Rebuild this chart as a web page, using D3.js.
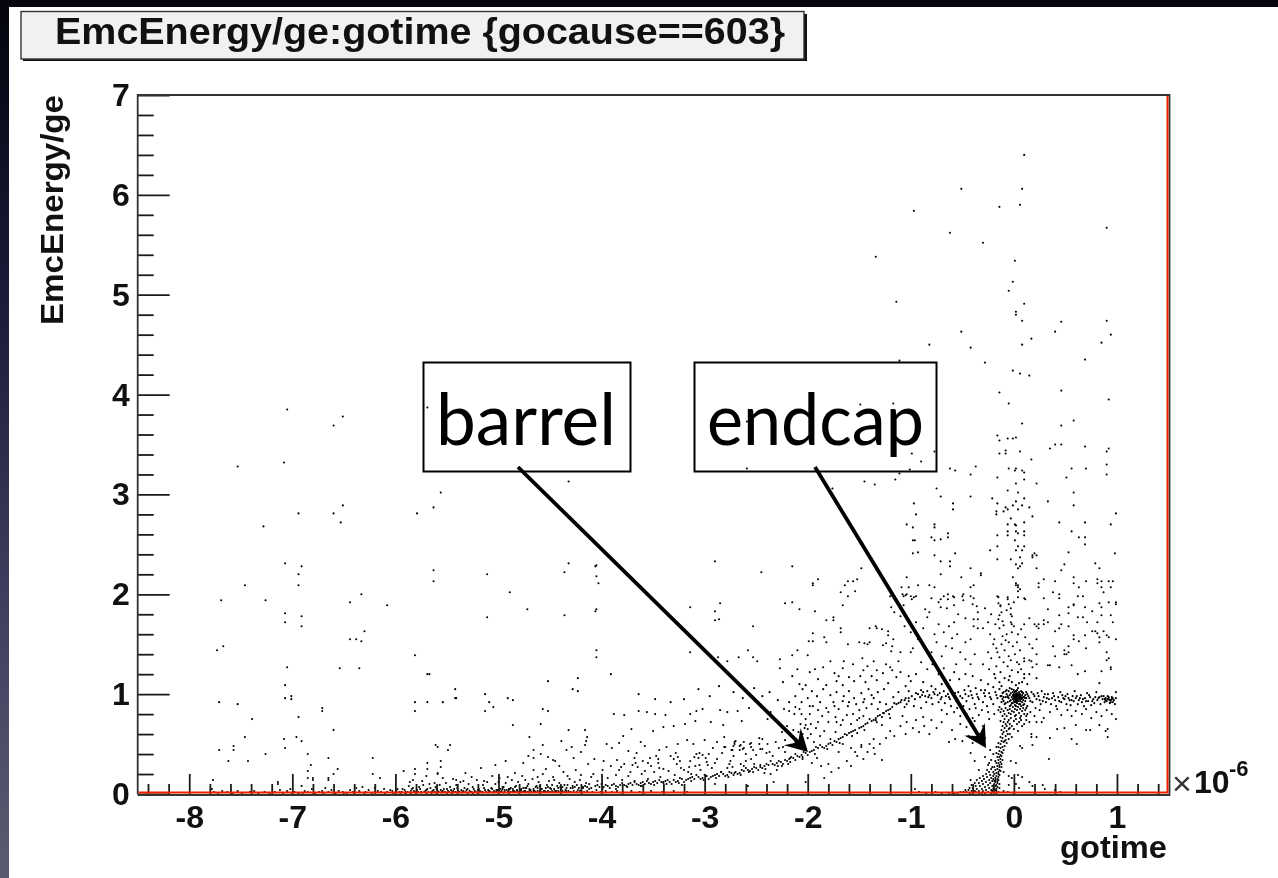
<!DOCTYPE html>
<html>
<head>
<meta charset="utf-8">
<script src="https://cdnjs.cloudflare.com/ajax/libs/d3/7.8.5/d3.min.js"></script>
<style>
  html, body { margin: 0; padding: 0; background: #fff; overflow: hidden; }
  #chart { display: block; }
</style>
</head>
<body>
<svg id="chart" width="1278" height="878"></svg>
<script>
// tick labels
const xLabels = [-8, -7, -6, -5, -4, -3, -2, -1, 0, 1];
const yLabels = [0, 1, 2, 3, 4, 5, 6, 7];
const xMinor = [-8.4,-8.2,-7.8,-7.6,-7.4,-7.2,-6.8,-6.6,-6.4,-6.2,-5.8,-5.6,-5.4,-5.2,-4.8,-4.6,-4.4,-4.2,-3.8,-3.6,-3.4,-3.2,-2.8,-2.6,-2.4,-2.2,-1.8,-1.6,-1.4,-1.2,-0.8,-0.6,-0.4,-0.2,0.2,0.4,0.6,0.8,1.2,1.4];
const yMinor = [0.2,0.4,0.6,0.8,1.2,1.4,1.6,1.8,2.2,2.4,2.6,2.8,3.2,3.4,3.6,3.8,4.2,4.4,4.6,4.8,5.2,5.4,5.6,5.8,6.2,6.4,6.6,6.8];

// [gotime (x 10^-6), EmcEnergy/ge]
const topPoints = [[-0.97,5.84],[-1.34,5.38],[-1.14,4.93],[-0.82,4.50],[-1.11,4.34],[0.10,6.40],[-0.51,6.06],[0.08,6.06],[-0.14,5.88],[0.06,5.90],[0.90,5.67],[-0.62,5.62],[-0.30,5.52],[0.01,5.34],[-0.01,5.13],[-0.05,5.04],[0.10,4.91],[0.02,4.83],[0.02,4.80],[0.08,4.74],[0.46,4.73],[0.90,4.74],[0.40,4.63],[-0.51,4.63],[0.94,4.60],[0.17,4.56],[0.85,4.52],[0.08,4.50],[-0.42,4.47],[0.69,4.35],[-0.28,4.32],[-0.01,4.24],[0.06,4.21],[0.15,4.19],[-1.49,3.90],[-1.17,3.91],[-2.59,3.73],[-1.84,3.65],[-0.99,3.41],[-0.90,3.33],[-0.77,3.43],[-2.59,3.26],[-1.11,3.21],[-1.01,3.25],[-4.32,3.13],[-1.15,3.15],[-1.45,3.13],[-1.35,3.10],[-1.76,3.06]];

const leftPoints = [[-7.05,3.85],[-6.51,3.78],[-6.60,3.69],[-5.69,3.87],[-7.53,3.28],[-7.08,3.32],[-5.56,3.02],[-6.51,2.89],[-5.63,2.87],[-6.94,2.81],[-6.60,2.81],[-5.79,2.81],[-6.53,2.72],[-7.28,2.68],[-7.07,2.31],[-6.91,2.28],[-5.63,2.24],[-6.94,2.20],[-5.63,2.13],[-7.46,2.09],[-6.94,2.09],[-6.33,2.00],[-7.69,1.94],[-7.26,1.94],[-6.44,1.92],[-6.08,1.89],[-7.07,1.81],[-6.91,1.78],[-7.07,1.72],[-6.91,1.68],[-6.30,1.63],[-6.44,1.55],[-6.38,1.55],[-6.33,1.53],[-7.67,1.48],[-7.73,1.44],[-5.81,1.39],[-7.05,1.27],[-6.54,1.26],[-6.35,1.26],[-5.69,1.20],[-5.67,1.20],[-7.07,1.09],[-5.42,1.05],[-7.07,0.96],[-7.01,0.98],[-7.01,0.95],[-5.42,0.96],[-7.71,0.92],[-7.53,0.90],[-7.39,0.75],[-6.94,0.77],[-6.71,0.86],[-6.71,0.83],[-6.60,0.64],[-7.46,0.57],[-7.08,0.55],[-6.96,0.57],[-6.91,0.53],[-7.57,0.48],[-7.57,0.44],[-7.71,0.44],[-7.07,0.46],[-7.26,0.40],[-6.85,0.40],[-6.65,0.36],[-6.22,0.36],[-7.62,0.33],[-7.43,0.33],[-6.82,0.29],[-6.85,0.23],[-6.56,0.25],[-6.60,0.20],[-6.22,0.20],[-6.85,0.16],[-6.80,0.16],[-6.80,0.14],[-6.65,0.16],[-6.65,0.14],[-6.15,0.16],[-7.77,0.14],[-7.14,0.12],[-7.14,0.10],[-5.92,0.23],[-5.81,0.92],[-5.81,0.83],[-5.69,0.92],[-5.54,0.92],[-5.41,0.96],[-5.61,0.49],[-5.59,0.47],[-5.47,0.49],[-5.49,0.44],[-5.56,0.33],[-5.69,0.31],[-5.69,0.25],[-5.56,0.27],[-5.81,0.25],[-5.81,0.20],[-5.83,0.14],[-5.70,0.18],[-5.59,0.21],[-5.59,0.20],[-5.54,0.16],[-5.41,0.14]];

const baselinePoints = [[-7.78,0.05],[-7.76,0.02],[-7.72,0.01],[-7.68,0.03],[-7.63,0.02],[-7.58,0.01],[-7.53,0.03],[-7.49,0.01],[-7.41,0.02],[-7.37,0.03],[-7.33,0.01],[-7.27,0.02],[-7.22,0.01],[-7.17,0.02],[-7.12,0.04],[-7.09,0.01],[-7.05,0.03],[-7.02,0.05],[-6.98,0.02],[-6.94,0.01],[-6.91,0.08],[-6.88,0.03],[-6.85,0.02],[-6.81,0.05],[-6.78,0.01],[-6.74,0.02],[-6.71,0.03],[-6.68,0.06],[-6.65,0.02],[-6.62,0.04],[-6.58,0.01],[-6.55,0.03],[-6.51,0.02],[-6.47,0.01],[-6.44,0.04],[-6.41,0.02],[-6.38,0.06],[-6.35,0.03],[-6.32,0.07],[-6.29,0.02],[-6.26,0.04],[-6.23,0.01],[-6.20,0.06],[-6.17,0.03],[-6.14,0.02],[-6.11,0.05],[-6.08,0.02],[-6.05,0.04],[-6.02,0.01],[-5.99,0.03],[-5.96,0.02],[-5.93,0.05],[-5.90,0.02],[-5.87,0.08],[-5.85,0.03],[-5.83,0.06],[-5.81,0.02],[-5.79,0.04],[-5.77,0.07],[-5.75,0.02],[-5.73,0.09],[-5.71,0.03],[-5.69,0.05],[-5.67,0.10],[-5.65,0.02],[-5.63,0.04],[-5.61,0.07],[-5.59,0.03],[-5.57,0.09],[-5.55,0.02],[-5.53,0.05],[-5.51,0.11],[-5.49,0.03],[-5.47,0.07],[-5.45,0.02],[-5.43,0.05],[-5.41,0.09],[-5.39,0.03],[-5.37,0.12],[-5.35,0.02],[-5.33,0.06],[-5.31,0.04],[-5.29,0.10],[-5.27,0.02],[-5.25,0.07],[-5.23,0.03],[-5.21,0.14],[-5.19,0.05],[-5.17,0.02],[-5.15,0.09],[-5.13,0.04],[-5.11,0.12],[-5.09,0.03],[-5.07,0.06],[-5.05,0.02],[-5.03,0.10],[-5.01,0.04],[-4.99,0.16],[-4.97,0.03],[-4.95,0.07],[-4.93,0.11],[-4.91,0.02],[-4.89,0.05],[-4.87,0.14],[-4.85,0.03],[-4.83,0.08],[-4.81,0.12],[-4.79,0.04],[-4.77,0.18],[-4.75,0.03],[-4.73,0.06],[-4.71,0.10],[-4.69,0.04],[-4.67,0.15],[-4.65,0.03],[-4.63,0.08],[-4.61,0.12],[-4.59,0.05],[-4.57,0.20],[-4.55,0.03],[-4.53,0.09],[-4.51,0.13],[-4.49,0.05],[-4.47,0.17],[-4.45,0.03],[-4.43,0.08],[-4.41,0.11],[-4.39,0.05],[-4.37,0.22],[-4.35,0.04],[-4.33,0.09],[-4.31,0.15],[-4.28,0.06],[-4.26,0.12],[-4.23,0.04],[-4.20,0.19],[-4.18,0.06],[-4.15,0.11],[-4.12,0.05],[-4.10,0.17],[-5.90,0.005],[-5.80,0.01],[-5.70,0.01],[-5.60,0.005],[-5.50,0.01],[-5.40,0.015],[-5.30,0.01],[-5.20,0.01],[-5.10,0.015],[-5.00,0.01],[-4.95,0.015],[-4.90,0.01],[-4.85,0.02],[-4.80,0.015],[-4.75,0.02],[-4.70,0.015],[-4.65,0.02],[-4.60,0.02],[-5.85,0.01],[-5.75,0.015],[-5.65,0.01],[-5.55,0.015],[-5.45,0.01],[-5.35,0.015],[-5.25,0.01],[-5.15,0.015],[-5.05,0.015],[-6.50,0.01],[-6.40,0.01],[-6.30,0.01],[-6.20,0.02],[-6.10,0.01],[-6.00,0.015],[-5.95,0.01],[-6.90,0.01],[-7.00,0.01],[-6.70,0.01],[-6.60,0.015]];

// the pile along zero, darkest between -6 and -4
const baselinePile = [[-6.03,0.03],[-5.98,0.05],[-5.94,0.02],[-5.91,0.04],[-5.88,0.02],[-5.84,0.05],[-5.82,0.03],[-5.78,0.02],[-5.76,0.05],[-5.72,0.02],[-5.70,0.04],[-5.68,0.02],[-5.66,0.06],[-5.64,0.03],[-5.62,0.02],[-5.60,0.05],[-5.58,0.02],[-5.56,0.04],[-5.54,0.03],[-5.52,0.02],[-5.50,0.05],[-5.48,0.02],[-5.46,0.04],[-5.44,0.03],[-5.42,0.02],[-5.40,0.06],[-5.38,0.02],[-5.36,0.04],[-5.34,0.03],[-5.32,0.02],[-5.30,0.05],[-5.28,0.03],[-5.26,0.02],[-5.24,0.05],[-5.22,0.02],[-5.20,0.04],[-5.18,0.03],[-5.16,0.02],[-5.14,0.06],[-5.12,0.02],[-5.10,0.04],[-5.08,0.02],[-5.06,0.05],[-5.04,0.03],[-5.02,0.02],[-5.00,0.03],[-4.98,0.02],[-4.96,0.05],[-4.94,0.02],[-4.92,0.04],[-4.90,0.03],[-4.88,0.02],[-4.86,0.03],[-4.84,0.02],[-4.82,0.03],[-4.80,0.02],[-4.78,0.03],[-4.76,0.02],[-4.74,0.03],[-4.72,0.02],[-4.70,0.03],[-4.68,0.02],[-4.66,0.03],[-4.64,0.02],[-4.62,0.03],[-4.60,0.03],[-4.58,0.02],[-4.56,0.03],[-4.54,0.02],[-4.52,0.03],[-4.50,0.02],[-4.48,0.03],[-4.46,0.02],[-4.44,0.03],[-4.42,0.03],[-4.40,0.02],[-4.38,0.03],[-4.36,0.02],[-4.34,0.03],[-4.32,0.03],[-4.30,0.02],[-4.27,0.03],[-4.24,0.02],[-4.21,0.03],[-4.17,0.02],[-4.14,0.03],[-4.09,0.02],[-4.05,0.04],[-4.01,0.02],[-3.96,0.03],[-3.90,0.02],[-3.85,0.03],[-3.79,0.02],[-3.71,0.03],[-3.63,0.02],[-3.52,0.03],[-3.41,0.02],[-3.30,0.03],[-3.17,0.02],[-5.86,0.12],[-5.74,0.13],[-5.62,0.11],[-5.44,0.15],[-5.34,0.13],[-5.26,0.17],[-5.14,0.13],[-5.06,0.18],[-5.00,0.12],[-4.91,0.17],[-4.84,0.21],[-4.74,0.14],[-4.66,0.24],[-4.62,0.17],[-4.54,0.25],[-4.46,0.14],[-4.41,0.28],[-4.33,0.18],[-4.25,0.24],[-4.21,0.14],[-4.13,0.30],[-4.08,0.20],[-4.04,0.13],[-3.99,0.24],[-5.32,0.21],[-5.17,0.26],[-5.03,0.29],[-4.93,0.33],[-4.76,0.31],[-4.71,0.38],[-4.45,0.33],[-4.27,0.36],[-4.20,0.42],[-4.07,0.35]];

const lowScatter = [[-5.11,2.20],[-4.32,2.31],[-4.05,2.29],[-4.06,2.28],[-4.36,2.22],[-4.05,2.18],[-4.03,2.11],[-4.89,2.02],[-4.72,1.85],[-5.11,1.77],[-4.36,1.79],[-4.05,1.85],[-4.06,1.83],[-4.05,1.44],[-4.05,1.37],[-4.23,1.16],[-4.52,1.13],[-3.91,1.20],[-4.28,1.05],[-4.23,1.03],[-3.64,1.00],[-5.13,1.00],[-5.09,0.92],[-5.13,0.83],[-5.05,0.87],[-4.91,0.96],[-4.86,0.94],[-4.57,0.85],[-4.52,0.83],[-4.86,0.69],[-4.59,0.70],[-4.70,0.57],[-4.32,0.64],[-4.16,0.64],[-4.39,0.53],[-4.14,0.57],[-4.15,0.53],[-4.16,0.49],[-4.29,0.47],[-4.34,0.44],[-4.57,0.49],[-4.66,0.44],[-4.59,0.40],[-4.52,0.37],[-4.47,0.34],[-4.66,0.36],[-3.64,0.83],[-3.56,0.82],[-3.88,0.80],[-3.78,0.79],[-3.48,0.80],[-3.38,0.79],[-3.14,0.80],[-3.08,0.83],[-3.02,0.85],[-2.85,0.84],[-2.78,0.82],[-2.68,0.83],[-2.57,0.86],[-2.45,0.87],[-2.36,0.82],[-3.79,0.58],[-3.71,0.65],[-3.62,0.52],[-3.50,0.63],[-3.40,0.67],[-3.30,0.68],[-3.19,0.70],[-3.09,0.73],[-2.94,0.72],[-2.82,0.69],[-2.64,0.73],[-2.39,0.75],[-2.28,0.72],[-3.95,0.50],[-3.90,0.46],[-3.83,0.51],[-3.74,0.43],[-3.66,0.41],[-3.58,0.48],[-3.44,0.44],[-3.37,0.47],[-3.26,0.50],[-3.17,0.54],[-3.11,0.50],[-3.00,0.54],[-2.92,0.46],[-2.88,0.52],[-2.81,0.57],[-2.70,0.53],[-2.62,0.52],[-2.55,0.47],[-2.47,0.56],[-2.39,0.50],[-2.31,0.52],[-2.22,0.54],[-2.16,0.58],[-2.09,0.62],[-3.98,0.33],[-3.91,0.28],[-3.85,0.34],[-3.78,0.30],[-3.72,0.22],[-3.65,0.27],[-3.60,0.33],[-3.52,0.28],[-3.45,0.35],[-3.40,0.25],[-3.33,0.38],[-3.27,0.30],[-3.20,0.24],[-3.14,0.33],[-3.10,0.37],[-3.05,0.29],[-2.98,0.32],[-2.93,0.26],[-2.88,0.35],[-2.83,0.41],[-2.76,0.30],[-2.72,0.38],[-2.66,0.44],[-2.60,0.40],[-2.55,0.35],[-2.50,0.39],[-2.44,0.45],[-2.40,0.41],[-2.34,0.38],[-2.28,0.46],[-2.22,0.42],[-2.17,0.36],[-3.94,0.16],[-3.86,0.19],[-3.80,0.14],[-3.74,0.18],[-3.68,0.13],[-3.61,0.20],[-3.55,0.15],[-3.49,0.22],[-3.43,0.17],[-3.35,0.23],[-3.29,0.19],[-3.23,0.26],[-3.16,0.22],[-3.09,0.28],[-3.04,0.24],[-2.97,0.29],[-2.90,0.31],[-2.84,0.22],[-2.78,0.26],[-2.71,0.21],[-2.65,0.30],[-2.57,0.22],[-2.46,0.29],[-2.42,0.21],[-2.36,0.20],[-2.30,0.24],[-2.25,0.28],[-2.19,0.30],[-2.12,0.34],[-2.05,0.37],[-1.96,0.31],[-1.91,0.36],[-1.87,0.28],[-1.80,0.30],[-1.77,0.22],[-1.84,0.16],[-1.70,0.26],[-1.62,0.33],[-1.58,0.28],[-1.52,0.38],[-1.46,0.35],[-1.35,0.40],[-1.28,0.34],[-2.02,0.12],[-2.33,0.12],[-2.58,0.08],[-2.90,0.10],[-3.40,0.12],[-3.62,0.08],[-3.22,0.09]];

// tight clumps in the scatter over the barrel band
const clumps = [[-2.81,0.47],[-2.80,0.47],[-2.74,0.44],[-2.73,0.44],[-2.72,0.48],[-2.71,0.52],[-2.71,0.50],[-2.66,0.48],[-2.65,0.49],[-2.63,0.45],[-2.62,0.46],[-2.56,0.50],[-2.55,0.51],[-2.53,0.44],[-2.47,0.50],[-2.46,0.45],[-2.44,0.55],[-3.08,0.40],[-3.06,0.36],[-3.05,0.41],[-3.02,0.39],[-2.99,0.36],[-2.96,0.40],[-3.28,0.41],[-3.26,0.37],[-3.24,0.33],[-3.30,0.35],[-3.47,0.38],[-3.45,0.31],[-3.44,0.26],[-3.55,0.31],[-3.53,0.36],[-3.70,0.29],[-3.68,0.36],[-3.67,0.31],[-3.83,0.24],[-3.81,0.27],[-3.58,0.23],[-3.15,0.27],[-3.13,0.20],[-2.75,0.33],[-2.73,0.27],[-2.62,0.28],[-2.60,0.33],[-2.52,0.30],[-2.37,0.42],[-2.24,0.47],[-2.14,0.48],[-2.10,0.52],[-2.05,0.60],[-2.00,0.65],[-1.97,0.70],[-2.02,0.69],[-2.06,0.80],[-1.98,0.88],[-1.90,0.84],[-1.80,0.82],[-1.74,0.88],[-1.72,0.72],[-1.66,0.74],[-1.60,0.92],[-1.56,0.80],[-1.50,0.76],[-1.46,0.92],[-1.41,1.05],[-1.36,0.96],[-1.30,0.92],[-1.24,0.90],[-1.17,0.97],[-1.12,1.02],[-1.06,0.87],[-1.02,1.03],[-1.46,1.24],[-1.42,1.28],[-1.33,1.24],[-1.20,1.27],[-1.14,1.17],[-1.74,1.21],[-1.70,1.18],[-1.66,1.26],[-2.12,0.87],[-2.18,0.83],[-2.29,0.94],[-2.37,1.02],[-2.44,0.98],[-2.52,1.06],[-2.63,0.96],[-2.72,1.02],[-2.86,1.08],[-2.95,0.98],[-3.06,1.05],[-3.20,0.95],[-3.33,0.92],[-3.48,0.95]];

const midCloud = [[-3.14,1.87],[-2.90,1.83],[-2.85,1.91],[-2.90,1.74],[-2.86,1.75],[-2.53,1.68],[-2.45,2.22],[-2.90,2.33],[-2.15,2.28],[-3.14,1.42],[-2.87,1.37],[-2.78,1.33],[-2.67,1.37],[-2.58,1.44],[-2.53,1.37],[-2.49,1.33],[-2.27,1.35],[-2.27,1.26],[-2.10,1.44],[-2.15,1.39],[-2.00,1.39],[-2.22,1.91],[-2.15,1.92],[-2.08,1.85],[-1.93,1.83],[-1.95,2.11],[-1.95,2.09],[-1.90,2.15],[-1.82,1.74],[-1.75,1.77],[-1.75,1.74],[-1.68,1.66],[-1.68,1.62],[-1.66,1.89],[-1.61,1.98],[-1.68,2.02],[-1.54,2.03],[-1.61,2.13],[-1.56,2.13],[-1.52,2.15],[-1.64,2.09],[-1.48,2.26],[-1.40,1.66],[-1.34,1.68],[-1.33,1.66],[-1.28,1.65],[-1.22,1.63],[-1.22,1.59],[-1.17,1.55],[-1.95,1.61],[-1.99,1.53],[-1.95,1.53],[-1.84,1.57],[-1.82,1.52],[-1.61,1.50],[-1.50,1.52],[-1.45,1.51],[-1.42,1.50],[-1.40,1.52],[-1.27,1.49],[-1.24,1.51],[-1.18,1.48],[-1.19,1.43],[-1.10,1.42],[-1.00,1.42],[-1.12,1.33],[-1.24,1.30],[-1.36,1.33],[-1.47,1.36],[-1.56,1.30],[-1.65,1.33],[-1.78,1.33],[-1.85,1.27],[-1.93,1.25],[-1.98,1.22],[-1.90,1.15],[-1.82,1.09],[-1.72,1.13],[-1.66,1.09],[-1.60,1.17],[-1.55,1.13],[-1.49,1.18],[-1.44,1.12],[-1.38,1.18],[-1.33,1.14],[-1.27,1.21],[-1.22,1.11],[-1.18,1.24],[-1.10,1.22],[-1.05,1.08],[-1.02,1.18],[-1.00,1.13],[-2.10,1.25],[-2.15,1.18],[-2.24,1.12],[-2.08,1.10],[-2.05,1.05],[-2.02,1.09],[-1.96,1.03],[-1.91,0.98],[-1.85,1.05],[-1.78,0.99],[-1.72,1.02],[-1.65,0.98],[-1.60,1.03],[-1.55,0.96],[-1.48,1.01],[-1.45,0.95],[-1.38,0.99],[-1.32,1.02],[-1.26,1.05],[-2.12,0.98],[-2.06,0.92],[-2.00,0.96],[-1.95,0.88],[-1.88,0.92],[-1.82,0.86],[-1.75,0.92],[-1.70,0.85],[-1.66,0.93],[-1.61,0.88],[-1.53,0.90],[-1.50,0.84],[-1.43,0.86],[-1.38,0.90],[-1.32,0.85],[-2.18,0.92],[-2.23,0.85],[-2.13,0.80],[-2.08,0.85],[-2.02,0.75],[-1.98,0.80],[-1.90,0.72],[-1.86,0.78],[-1.80,0.72],[-1.73,0.77],[-1.68,0.69],[-1.62,0.79],[-1.58,0.70],[-1.52,0.74],[-1.46,0.78],[-2.25,0.62],[-2.20,0.68],[-2.14,0.64],[-2.07,0.70],[-2.03,0.66],[-1.97,0.60],[-1.92,0.66],[-1.88,0.58],[-1.84,0.63],[-1.78,0.55],[-1.73,0.62],[-1.94,0.52],[-2.00,0.56],[-2.06,0.50],[-2.12,0.52],[-1.70,0.42],[-1.66,0.50],[-1.58,0.46],[-1.54,0.42],[-1.48,0.47],[-1.40,0.50],[-1.36,0.55],[-1.30,0.50],[-1.24,0.56],[-1.20,0.63],[-1.16,0.58],[-1.10,0.68],[-1.05,0.60],[-0.98,0.66],[-0.92,0.62],[-0.87,0.68],[-0.82,0.60],[-0.75,0.66],[-0.70,0.72],[-0.80,0.74],[-0.88,0.77],[-0.95,0.74],[-1.04,0.72],[-1.08,0.78],[-1.28,0.69],[-1.34,0.74],[-1.20,0.76],[-1.27,0.81],[-1.48,0.49],[-1.42,0.42],[-1.36,0.46],[-0.57,0.55],[-0.63,0.52],[-0.50,0.53],[-0.44,0.58],[-0.40,0.51],[-0.33,0.60],[-0.28,0.56],[-0.60,0.64],[-0.52,0.70],[-0.46,0.67],[-0.38,0.73],[-0.30,0.68],[-0.24,0.75]];

const upperRight = [[-0.14,4.02],[0.46,4.04],[-0.05,3.91],[0.92,3.95],[0.58,3.74],[0.08,3.71],[0.46,3.69],[-0.16,3.59],[0.02,3.57],[-0.01,3.56],[-0.06,3.56],[-0.14,3.54],[0.40,3.50],[0.46,3.50],[0.69,3.48],[0.35,3.46],[0.92,3.46],[-0.08,3.44],[0.90,3.43],[-0.14,3.41],[-0.08,3.41],[0.06,3.43],[0.17,3.35],[0.90,3.30],[-0.37,3.28],[-0.62,3.26],[-0.57,3.24],[-0.05,3.26],[0.02,3.26],[0.01,3.24],[0.08,3.24],[0.10,3.22],[0.56,3.26],[0.70,3.26],[0.90,3.20],[-0.42,3.20],[-0.16,3.17],[0.51,3.17],[0.10,3.15],[0.02,3.11],[0.22,3.11],[-0.75,3.06],[-0.06,3.04],[0.04,3.02],[0.58,3.02],[-0.71,2.98],[-0.42,2.98],[-0.21,2.96],[0.10,2.96],[0.33,2.93],[0.02,2.93],[-0.16,2.91],[-0.97,2.91],[-0.59,2.91],[0.58,2.89],[-0.01,2.89],[0.08,2.89],[0.15,2.87],[-0.08,2.87],[-0.06,2.85],[0.04,2.85],[-0.59,2.85],[-0.10,2.83],[-0.17,2.83],[-0.17,2.80],[0.99,2.81],[-0.95,2.80],[0.18,2.78],[-0.03,2.76],[0.10,2.72],[0.44,2.72],[0.69,2.72],[-0.06,2.70],[0.94,2.70],[0.01,2.70],[0.02,2.69],[-1.04,2.70],[-0.77,2.70],[-0.98,2.67],[-0.77,2.67],[-0.06,2.63],[0.02,2.63],[0.04,2.61],[0.10,2.63],[0.56,2.63],[-0.64,2.61],[-0.06,2.59],[0.10,2.59],[-0.16,2.59],[-0.64,2.57],[-0.80,2.57],[0.63,2.57],[0.69,2.57],[-0.71,2.55],[-0.77,2.54],[-0.98,2.54],[-0.96,2.54],[0.01,2.54],[0.69,2.50],[-0.16,2.48],[0.04,2.48],[0.10,2.48],[-0.23,2.44],[0.02,2.44],[0.08,2.44],[0.53,2.42],[-0.93,2.42],[-0.98,2.41],[-0.57,2.41],[0.98,2.41],[0.20,2.41],[0.18,2.39],[0.22,2.39],[0.18,2.37],[-0.77,2.39],[0.06,2.37],[-0.03,2.35],[-0.16,2.35],[-0.71,2.33],[-0.62,2.33],[0.08,2.31],[0.79,2.31],[0.02,2.30],[0.49,2.30],[0.06,2.28],[0.04,2.26],[-0.62,2.28],[-0.42,2.26],[0.22,2.26],[0.83,2.26],[0.46,2.24],[-0.32,2.21],[-0.32,2.19],[-0.71,2.20],[-1.04,2.17],[-0.51,2.17],[-0.01,2.17],[0.58,2.17],[0.29,2.15],[0.81,2.15],[0.40,2.13],[0.70,2.13],[0.85,2.13],[0.92,2.13],[0.96,2.13],[0.24,2.11],[0.58,2.11],[0.02,2.11],[0.04,2.09],[0.02,2.09],[0.04,2.07],[0.81,2.11],[0.24,2.07],[0.63,2.07],[0.85,2.07],[0.94,2.07],[-0.39,2.09],[-0.42,2.07],[-0.82,2.09],[-0.77,2.07],[-0.93,2.09],[-1.02,2.07],[-1.09,2.07],[0.06,2.05],[0.04,2.03],[0.87,2.02],[0.38,2.02],[0.44,2.00],[-0.64,2.00],[-0.68,1.98],[-0.59,1.98],[-1.04,2.00],[-1.07,1.98],[-1.00,1.98],[-0.95,1.98],[-0.50,1.98],[-0.42,1.98],[-0.39,1.96],[-0.80,1.96],[-0.16,1.98],[-0.15,1.97],[-0.06,1.97],[-0.06,1.95],[0.04,1.97],[0.10,1.96],[0.11,1.95],[0.29,1.96],[0.62,1.98],[0.67,1.98],[0.44,1.96],[0.99,1.92],[0.99,1.90],[0.92,1.92],[0.83,1.91],[0.58,1.90],[0.58,1.89],[0.53,1.87],[0.33,1.85],[0.69,1.87],[0.85,1.87],[0.76,1.83],[0.53,1.81],[0.44,1.79],[0.85,1.79],[0.94,1.79],[0.62,1.77],[0.67,1.77],[0.15,1.76],[0.29,1.74],[0.29,1.70],[0.33,1.72],[0.71,1.72],[0.81,1.72],[0.96,1.72],[0.10,1.70],[0.20,1.70],[0.24,1.70],[0.22,1.68],[0.24,1.66],[0.46,1.70],[0.53,1.68],[0.44,1.66],[0.07,1.65],[0.40,1.63],[0.76,1.63],[0.79,1.63],[0.81,1.61],[0.87,1.63],[0.69,1.59],[0.90,1.59],[0.92,1.57],[0.11,1.57],[0.58,1.59],[0.58,1.55],[0.83,1.57],[0.99,1.55],[0.22,1.55],[0.63,1.53],[0.83,1.52],[0.15,1.50],[0.38,1.48],[0.53,1.48],[0.18,1.46],[0.70,1.46],[0.49,1.44],[0.53,1.42],[0.51,1.40],[0.49,1.40],[0.90,1.42],[0.06,1.44],[0.22,1.40],[0.40,1.38],[0.92,1.36],[0.90,1.34],[0.10,1.36],[0.10,1.33],[0.15,1.34],[0.17,1.33],[0.22,1.30],[0.18,1.27],[0.33,1.29],[0.35,1.29],[0.44,1.27],[0.56,1.29],[0.94,1.27],[0.94,1.25],[0.07,1.25],[0.69,1.23],[0.85,1.23],[0.15,1.20],[0.62,1.20],[0.22,1.16],[0.83,1.11],[0.10,1.20],[0.10,1.16]];

const nearStem = [[-0.71,1.95],[-0.64,1.95],[-0.58,1.97],[-0.73,1.92],[-0.71,1.87],[-0.65,1.86],[-0.58,1.89],[-0.49,1.94],[-0.49,2.00],[-1.20,1.98],[-1.08,2.00],[-1.05,1.99],[-0.99,1.95],[-0.97,1.97],[-1.19,1.87],[-1.16,1.82],[-1.07,1.89],[-0.86,1.85],[-0.82,1.82],[-0.84,1.77],[-0.40,1.90],[-0.36,1.88],[-0.35,1.82],[-0.47,1.76],[-0.39,1.75],[-0.35,1.75],[-0.39,1.68],[-0.35,1.66],[-0.15,1.91],[-0.13,1.88],[-0.05,1.90],[0.00,1.92],[-0.12,1.82],[-0.14,1.79],[-0.07,1.84],[-0.03,1.80],[-0.11,1.73],[-0.18,1.70],[-0.14,1.66],[-0.03,1.72],[0.00,1.68],[-0.23,1.60],[-0.19,1.55],[-0.11,1.58],[-0.07,1.60],[-0.02,1.62],[0.04,1.60],[-0.20,1.50],[-0.17,1.46],[-0.12,1.50],[-0.09,1.44],[-0.05,1.52],[-0.01,1.48],[0.03,1.52],[-0.25,1.42],[-0.22,1.36],[-0.14,1.37],[-0.10,1.32],[-0.05,1.38],[0.01,1.40],[0.03,1.32],[-0.30,1.30],[-0.24,1.25],[-0.17,1.28],[-0.13,1.22],[-0.06,1.28],[-0.02,1.24],[0.04,1.22],[-0.09,1.16],[-0.02,1.12],[-0.14,1.12],[-0.18,1.16],[-0.25,1.10],[-0.32,1.14],[-0.40,1.18],[-0.47,1.20],[-0.53,1.15],[-0.58,1.22],[-0.62,1.14],[-0.68,1.26],[-0.73,1.20],[-0.79,1.30],[-0.84,1.25],[-0.90,1.32],[-0.95,1.20],[-0.42,1.30],[-0.47,1.35],[-0.38,1.40],[-0.52,1.42],[-0.56,1.30],[-0.60,1.46],[-0.66,1.48],[-0.70,1.38],[-0.75,1.52],[-0.80,1.42],[-0.88,1.48],[-0.93,1.55],[-0.98,1.46],[-0.42,1.55],[-0.47,1.52],[-0.55,1.60],[-0.60,1.56],[-0.63,1.68],[-0.68,1.62],[-0.73,1.70],[-0.77,1.60],[-0.88,1.66],[-0.95,1.72],[-1.00,1.62],[-1.06,1.68],[-1.10,1.78],[-0.54,1.80],[-0.58,1.72],[-0.22,1.80],[-0.25,1.72],[-0.28,1.86],[-0.30,1.66],[-0.05,1.14],[0.05,1.11],[-0.12,1.08],[0.02,1.09],[0.08,1.12],[0.13,1.10],[-0.13,1.89],[-0.03,1.86],[-0.02,1.78],[-0.15,1.75],[-0.10,1.69],[-0.02,1.70],[-0.08,1.54],[-0.16,1.42],[-0.03,1.34],[-0.19,1.20],[0.05,1.30],[-0.04,1.18],[-0.20,1.07],[-0.28,1.04],[-0.37,1.06],[-0.44,1.08],[-0.62,1.07],[-0.70,1.10],[-0.80,1.08],[-0.88,1.12]];

const plateau = [[-1.09,0.94],[-1.05,0.96],[-1.02,0.93],[-0.99,0.98],[-0.96,0.95],[-0.93,1.00],[-0.91,0.97],[-0.88,1.02],[-0.86,0.98],[-0.84,1.03],[-0.82,0.99],[-0.80,0.96],[-0.78,1.02],[-0.76,1.05],[-0.74,0.99],[-0.72,1.01],[-0.70,0.97],[-0.68,1.03],[-0.66,0.98],[-0.64,1.00],[-0.62,0.95],[-0.60,1.02],[-0.58,0.98],[-0.56,0.93],[-0.54,1.02],[-0.52,0.98],[-0.50,0.96],[-0.48,1.04],[-0.46,0.93],[-0.44,0.98],[-0.42,1.03],[-0.40,0.96],[-0.38,0.90],[-0.36,1.00],[-0.34,0.95],[-0.32,1.04],[-0.30,0.92],[-0.28,0.98],[-0.26,0.88],[-0.24,1.01],[-0.22,0.95],[-0.20,0.90],[-0.18,1.02],[-0.16,0.96],[-0.14,1.05],[-0.12,0.98],[-0.10,0.93],[-0.08,1.03],[-0.06,0.97],[-0.90,1.04],[-0.85,0.92],[-0.79,0.90],[-0.73,0.92],[-0.67,0.91],[-0.61,0.88],[-0.55,0.86],[-0.49,0.88],[-0.43,0.85],[-0.37,0.86],[-0.31,0.84],[-0.25,0.82],[-0.19,0.80],[-0.15,0.84],[-0.97,0.88],[-0.90,0.86],[-0.70,0.84],[-0.65,0.80],[-0.58,0.82],[-0.52,0.78],[-0.46,0.80],[-0.40,0.76],[-0.34,0.79],[0.13,0.88],[0.15,0.96],[0.17,1.02],[0.18,0.92],[0.20,0.98],[0.21,0.86],[0.23,1.01],[0.25,0.94],[0.26,0.90],[0.27,1.03],[0.29,0.97],[0.31,0.92],[0.33,1.00],[0.34,0.95],[0.36,0.90],[0.38,1.01],[0.40,0.94],[0.41,0.88],[0.43,0.97],[0.45,1.02],[0.46,0.92],[0.47,0.99],[0.49,0.95],[0.51,0.90],[0.52,1.00],[0.54,0.94],[0.55,0.89],[0.57,0.98],[0.58,0.93],[0.59,1.03],[0.60,0.96],[0.62,0.90],[0.63,0.94],[0.65,0.99],[0.66,0.92],[0.68,0.88],[0.69,0.96],[0.71,1.01],[0.72,0.93],[0.74,0.97],[0.75,0.89],[0.77,0.95],[0.78,0.91],[0.80,1.02],[0.81,0.94],[0.83,0.97],[0.84,0.90],[0.86,0.95],[0.87,0.98],[0.88,0.92],[0.89,0.96],[0.90,0.93],[0.91,0.98],[0.92,0.95],[0.93,0.91],[0.94,0.94],[0.95,0.97],[0.96,0.92],[0.97,0.94],[0.98,0.90],[0.99,1.02],[0.99,0.96],[0.16,0.82],[0.20,0.78],[0.25,0.84],[0.29,0.76],[0.35,0.82],[0.42,0.85],[0.46,0.79],[0.52,0.84],[0.56,0.78],[0.60,0.83],[0.66,0.80],[0.70,0.85],[0.75,0.76],[0.80,0.82],[0.85,0.78],[0.90,0.84],[0.95,0.80],[0.99,0.75],[0.22,0.72],[0.27,0.72],[0.42,0.65],[0.49,0.66],[0.60,0.69],[0.70,0.64],[0.74,0.64],[0.83,0.69],[0.91,0.65],[0.89,0.63],[0.91,0.57],[0.56,0.55],[0.61,0.50],[0.35,0.56],[0.22,0.57],[0.17,0.60],[0.17,0.57],[0.18,0.49],[0.06,0.48],[0.08,0.46],[0.34,0.35],[-0.03,0.33],[0.02,0.31],[-0.95,1.01],[-0.89,0.99],[-0.83,0.97],[-0.77,1.00],[-0.71,0.95],[-0.63,0.97],[-0.57,1.01],[-0.47,1.00],[-0.41,0.99],[-0.35,0.97],[-0.29,1.01],[-0.23,0.97],[-0.17,0.99],[-0.11,1.01],[0.14,0.98],[0.16,0.93],[0.19,1.00],[0.22,0.95],[0.24,0.98],[0.28,0.93],[0.30,1.00],[0.32,0.96],[0.37,0.96],[0.39,0.98],[0.44,0.93],[0.48,0.96],[0.50,0.98],[0.53,0.96],[0.56,0.94],[0.61,0.98],[0.64,0.96],[0.67,0.95],[0.70,0.93],[0.73,0.99],[0.76,0.93],[0.79,0.97],[0.82,0.96],[0.85,0.98],[0.88,0.95],[0.89,0.94],[0.91,0.95],[0.92,0.97],[0.93,0.94],[0.94,0.92],[0.95,0.95],[0.96,0.96]];

const coreCluster = [[-0.13,0.98],[-0.11,0.95],[-0.10,1.02],[-0.09,0.90],[-0.08,0.97],[-0.07,1.00],[-0.06,0.92],[-0.05,0.96],[-0.05,1.03],[-0.04,0.88],[-0.04,0.99],[-0.03,0.94],[-0.03,1.01],[-0.02,0.97],[-0.02,0.91],[-0.02,1.05],[-0.01,0.95],[-0.01,0.99],[-0.01,1.02],[0.00,0.93],[0.00,0.96],[0.00,0.98],[0.00,1.00],[0.00,1.04],[0.01,0.89],[0.01,0.95],[0.01,0.97],[0.01,0.99],[0.01,1.02],[0.02,0.92],[0.02,0.94],[0.02,0.96],[0.02,0.98],[0.02,1.00],[0.02,1.03],[0.03,0.95],[0.03,0.97],[0.03,0.99],[0.03,0.91],[0.03,1.01],[0.04,0.93],[0.04,0.96],[0.04,0.98],[0.04,1.00],[0.04,1.06],[0.05,0.95],[0.05,0.97],[0.05,0.90],[0.05,1.02],[0.06,0.93],[0.06,0.96],[0.06,0.98],[0.06,1.00],[0.07,0.95],[0.07,0.97],[0.07,1.03],[0.07,0.88],[0.08,0.92],[0.08,0.96],[0.08,0.99],[0.09,0.94],[0.09,1.01],[0.10,0.90],[0.10,0.97],[0.11,0.93],[0.11,0.99],[0.12,0.96],[0.12,0.86],[0.13,1.00],[-0.14,0.87],[-0.12,0.85],[-0.10,0.83],[-0.08,0.86],[-0.06,0.84],[-0.05,0.81],[-0.04,0.85],[-0.03,0.80],[-0.02,0.83],[-0.01,0.87],[0.00,0.82],[0.01,0.85],[0.02,0.79],[0.03,0.84],[0.04,0.87],[0.05,0.81],[0.06,0.85],[0.07,0.78],[0.08,0.83],[0.09,0.86],[0.10,0.80],[0.11,0.84],[0.12,0.78],[-0.11,0.78],[-0.09,0.75],[-0.07,0.78],[-0.05,0.74],[-0.03,0.76],[0.00,0.73],[0.02,0.75],[0.05,0.72],[0.07,0.74],[0.10,0.70],[0.12,0.74],[-0.12,0.92],[-0.10,0.97],[-0.08,0.91],[-0.07,1.04],[-0.06,0.98],[-0.04,0.93],[-0.04,1.06],[-0.03,0.89],[-0.01,0.91],[0.01,0.92],[0.02,0.88],[0.03,0.93],[0.03,1.04],[0.05,0.99],[0.06,0.90],[0.08,1.02],[0.09,0.89],[0.09,0.97],[0.11,0.96],[0.12,1.02],[-0.13,0.82],[-0.09,0.80],[-0.06,0.72],[-0.04,0.70],[-0.02,0.68],[0.01,0.78],[0.03,0.70],[0.06,0.76],[0.08,0.68],[0.13,0.80],[0.15,0.72],[-0.13,0.73],[-0.08,0.70],[-0.04,0.66],[0.00,0.65],[0.04,0.63]];

const endcapStem = [[-0.10,0.72],[-0.11,0.68],[-0.09,0.66],[-0.12,0.64],[-0.10,0.62],[-0.07,0.63],[-0.11,0.60],[-0.13,0.57],[-0.11,0.56],[-0.08,0.58],[-0.12,0.53],[-0.10,0.52],[-0.15,0.51],[-0.13,0.50],[-0.09,0.53],[-0.05,0.55],[-0.02,0.57],[-0.15,0.47],[-0.13,0.46],[-0.11,0.47],[-0.14,0.43],[-0.12,0.42],[-0.15,0.40],[-0.13,0.39],[-0.16,0.37],[-0.14,0.37],[-0.13,0.35],[-0.15,0.34],[-0.13,0.32],[-0.15,0.31],[-0.17,0.31],[-0.14,0.29],[-0.16,0.28],[-0.14,0.27],[-0.16,0.25],[-0.14,0.24],[-0.18,0.24],[-0.15,0.22],[-0.17,0.21],[-0.15,0.20],[-0.17,0.18],[-0.15,0.17],[-0.18,0.16],[-0.16,0.15],[-0.18,0.14],[-0.16,0.13],[-0.18,0.12],[-0.16,0.11],[-0.19,0.10],[-0.17,0.09],[-0.18,0.08],[-0.16,0.07],[-0.19,0.06],[-0.17,0.05],[-0.18,0.04],[-0.17,0.03],[-0.19,0.02],[-0.17,0.01],[-0.22,0.34],[-0.24,0.31],[-0.25,0.29],[-0.21,0.27],[-0.26,0.24],[-0.22,0.25],[-0.24,0.22],[-0.20,0.22],[-0.27,0.20],[-0.23,0.19],[-0.20,0.18],[-0.30,0.18],[-0.26,0.17],[-0.22,0.16],[-0.33,0.16],[-0.29,0.15],[-0.24,0.14],[-0.21,0.13],[-0.36,0.14],[-0.31,0.13],[-0.27,0.12],[-0.23,0.11],[-0.38,0.11],[-0.34,0.11],[-0.30,0.10],[-0.25,0.09],[-0.21,0.08],[-0.41,0.09],[-0.37,0.08],[-0.33,0.08],[-0.28,0.07],[-0.24,0.06],[-0.43,0.06],[-0.40,0.06],[-0.36,0.05],[-0.31,0.05],[-0.27,0.04],[-0.22,0.04],[-0.47,0.04],[-0.44,0.04],[-0.41,0.03],[-0.38,0.03],[-0.34,0.03],[-0.30,0.03],[-0.25,0.02],[-0.52,0.02],[-0.49,0.02],[-0.46,0.02],[-0.43,0.01],[-0.40,0.01],[-0.37,0.02],[-0.34,0.01],[-0.31,0.01],[-0.28,0.01],[-0.22,0.01],[-0.58,0.01],[-0.55,0.01],[-0.63,0.01],[-0.70,0.01],[-0.76,0.02],[-0.85,0.01],[-0.92,0.02],[-0.96,0.05],[-0.34,0.24],[-0.42,0.14],[-0.28,0.37],[-0.42,0.41],[-0.38,0.33],[-0.10,0.22],[-0.05,0.18],[-0.02,0.16],[0.04,0.19],[0.08,0.17],[0.02,0.10],[-0.05,0.09],[0.05,0.06],[0.15,0.12],[0.18,0.08],[0.28,0.09],[0.30,0.05],[0.40,0.04],[0.45,0.02],[-0.10,0.03],[-0.06,0.02],[0.00,0.01],[-0.14,0.10],[-0.15,0.14],[-0.14,0.19],[-0.13,0.23],[-0.12,0.27],[-0.12,0.30],[-0.11,0.34],[-0.12,0.38],[-0.11,0.41],[-0.10,0.44],[-0.09,0.48],[-0.07,0.51],[-0.08,0.54],[-0.06,0.60],[-0.05,0.65],[-0.07,0.68],[-0.04,0.60],[-0.14,0.06],[-0.15,0.02],[-0.20,0.05],[-0.21,0.03],[-0.19,0.13],[-0.20,0.15],[-0.19,0.20],[-0.19,0.27],[-0.18,0.33],[-0.17,0.41],[-0.17,0.47],[-0.20,0.40],[-0.23,0.44]];

const barrelBand = [[-5.02,0.04],[-4.98,0.05],[-4.94,0.04],[-4.90,0.05],[-4.86,0.05],[-4.82,0.04],[-4.78,0.05],[-4.74,0.06],[-4.70,0.05],[-4.66,0.05],[-4.62,0.06],[-4.58,0.05],[-4.54,0.06],[-4.50,0.06],[-4.46,0.05],[-4.42,0.06],[-4.38,0.07],[-4.34,0.06],[-4.30,0.06],[-4.26,0.07],[-4.22,0.06],[-4.18,0.07],[-4.14,0.07],[-4.10,0.06],[-4.06,0.08],[-4.02,0.07],[-3.98,0.07],[-3.94,0.08],[-3.90,0.09],[-3.86,0.08],[-3.82,0.09],[-3.78,0.09],[-3.74,0.10],[-3.70,0.09],[-3.66,0.10],[-3.62,0.11],[-3.58,0.10],[-3.54,0.11],[-3.50,0.12],[-3.46,0.11],[-3.42,0.12],[-3.38,0.13],[-3.34,0.12],[-3.30,0.14],[-3.26,0.13],[-3.22,0.15],[-3.18,0.14],[-3.14,0.16],[-3.10,0.15],[-3.06,0.17],[-3.02,0.16],[-2.98,0.18],[-2.94,0.17],[-2.90,0.19],[-2.86,0.18],[-2.82,0.20],[-2.78,0.19],[-2.74,0.21],[-2.70,0.22],[-2.66,0.21],[-2.62,0.23],[-2.58,0.24],[-2.54,0.25],[-2.50,0.26],[-2.46,0.27],[-2.42,0.28],[-2.38,0.29],[-2.34,0.30],[-2.30,0.31],[-2.26,0.32],[-2.22,0.34],[-2.18,0.35],[-2.14,0.36],[-2.10,0.38],[-2.06,0.39],[-2.02,0.41],[-1.98,0.42],[-1.94,0.44],[-1.90,0.46],[-1.86,0.47],[-1.82,0.48],[-1.78,0.51],[-1.74,0.53],[-1.70,0.55],[-1.66,0.57],[-1.62,0.59],[-1.58,0.62],[-1.54,0.64],[-1.50,0.66],[-1.46,0.68],[-1.42,0.71],[-1.38,0.73],[-1.34,0.76],[-1.30,0.79],[-1.26,0.81],[-1.22,0.84],[-1.18,0.87],[-1.14,0.90],[-1.10,0.92],[-1.06,0.94],[-1.02,0.96],[-4.96,0.07],[-4.84,0.07],[-4.72,0.08],[-4.60,0.08],[-4.48,0.09],[-4.36,0.09],[-4.24,0.09],[-4.12,0.10],[-4.00,0.10],[-3.92,0.06],[-3.80,0.11],[-3.68,0.12],[-3.56,0.13],[-3.44,0.14],[-3.32,0.10],[-3.20,0.12],[-3.08,0.19],[-2.96,0.15],[-2.84,0.22],[-2.72,0.19],[-2.60,0.26],[-2.48,0.24],[-2.36,0.33],[-2.24,0.30],[-2.12,0.40],[-2.00,0.39],[-1.88,0.49],[-1.76,0.49],[-1.64,0.60],[-1.52,0.61],[-1.40,0.75],[-1.28,0.77],[-1.16,0.91],[-1.04,0.90],[-3.99,0.05],[-3.86,0.05],[-3.75,0.07],[-3.61,0.08],[-3.49,0.09],[-3.37,0.10],[-3.25,0.11],[-3.13,0.13],[-3.01,0.14],[-2.89,0.16],[-2.77,0.17],[-2.65,0.19],[-2.53,0.22],[-2.41,0.25],[-2.29,0.28],[-2.17,0.32],[-2.05,0.35],[-1.93,0.40],[-1.81,0.45],[-1.69,0.51],[-1.57,0.58],[-1.45,0.64],[-1.33,0.72],[-1.21,0.80],[-4.88,0.06],[-4.76,0.06],[-4.64,0.07],[-4.52,0.07],[-4.40,0.07],[-4.28,0.08],[-4.16,0.08],[-4.04,0.09],[-3.96,0.09],[-3.88,0.10],[-3.84,0.07],[-3.76,0.08],[-3.72,0.11],[-3.64,0.09],[-3.60,0.12],[-3.52,0.10],[-3.48,0.13],[-3.40,0.11],[-3.36,0.14],[-3.28,0.12],[-3.24,0.16],[-3.16,0.15],[-3.12,0.17],[-3.04,0.15],[-3.00,0.19],[-2.92,0.18],[-2.88,0.20],[-2.80,0.18],[-2.76,0.22],[-2.68,0.20],[-2.64,0.24],[-2.56,0.23],[-2.52,0.27],[-2.44,0.26],[-2.40,0.30],[-2.32,0.29],[-2.28,0.33],[-2.20,0.33],[-2.16,0.37],[-2.08,0.37],[-2.04,0.42],[-1.96,0.43],[-1.92,0.47],[-1.84,0.46],[-1.80,0.50],[-1.72,0.52],[-1.68,0.56],[-1.60,0.61],[-1.56,0.63],[-1.48,0.67],[-1.44,0.70],[-1.36,0.74],[-1.32,0.78],[-1.24,0.83],[-1.20,0.85],[-1.12,0.91]];

const pointGroups = [leftPoints, baselinePoints, baselinePile, topPoints, lowScatter, clumps, midCloud, upperRight, nearStem, plateau, coreCluster, endcapStem, barrelBand];

const width = 1278, height = 878;
const plot = { left: 137.7, right: 1168.5, top: 95, bottom: 794 };

const svg = d3.select("#chart");

// slide background showing round the pasted plot
const defs = svg.append("defs");
const grad = defs.append("linearGradient").attr("id", "strip").attr("x1", 0).attr("y1", 0).attr("x2", 0).attr("y2", 1);
[[0, "#03040c"], [0.35, "#1a1c3a"], [0.68, "#3e3f5e"], [1, "#5b5b70"]].forEach(s => {
  grad.append("stop").attr("offset", s[0]).attr("stop-color", s[1]);
});
svg.append("rect").attr("width", width).attr("height", height).attr("fill", "#fff");

const page = svg.append("g").style("filter", "blur(0.35px)");

// scales
const x = d3.scaleLinear().domain([-8.5, 1.5]).range([plot.left, plot.right]);
const y = d3.scaleLinear().domain([0, 7]).range([plot.bottom, plot.top]);

// points
const allPoints = pointGroups.flat();
page.append("g").selectAll("circle")
  .data(allPoints)
  .join("circle")
  .attr("cx", d => x(d[0]))
  .attr("cy", d => y(d[1]))
  .attr("r", 1.05)
  .attr("fill", "#000");

// ticks point inward, like the root canvas
function inwardTicks(axis, transform, len) {
  const g = page.append("g").attr("transform", transform)
    .call(axis.tickSize(len).tickFormat(""));
  g.select(".domain").remove();
  g.selectAll("line").attr("stroke", "#1a1a1a").attr("stroke-width", 1.8);
}
inwardTicks(d3.axisTop(x).tickValues(xLabels), `translate(0,${plot.bottom})`, 20);
inwardTicks(d3.axisTop(x).tickValues(xMinor), `translate(0,${plot.bottom})`, 10);
inwardTicks(d3.axisRight(y).tickValues(yLabels), `translate(${plot.left},0)`, 32);
inwardTicks(d3.axisRight(y).tickValues(yMinor), `translate(${plot.left},0)`, 16);

// tick labels
const xAxisLabels = page.append("g").attr("transform", `translate(0,${plot.bottom})`)
  .call(d3.axisBottom(x).tickValues(xLabels).tickSize(0).tickFormat(d => String(d)));
xAxisLabels.select(".domain").remove();
xAxisLabels.selectAll("text")
  .attr("y", 34)
  .attr("dy", 0)
  .attr("font-family", "Liberation Sans")
  .attr("font-weight", "bold")
  .attr("font-size", 32)
  .attr("fill", "#111");

const yAxisLabels = page.append("g").attr("transform", `translate(${plot.left},0)`)
  .call(d3.axisLeft(y).tickValues(yLabels).tickSize(0).tickFormat(d => String(d)));
yAxisLabels.select(".domain").remove();
yAxisLabels.selectAll("text")
  .attr("x", -8)
  .attr("dy", "0.33em")
  .attr("font-family", "Liberation Sans")
  .attr("font-weight", "bold")
  .attr("font-size", 32)
  .attr("fill", "#111");

// frame, with the red histogram line on bottom and right
const frame = page.append("g").attr("fill", "none");
frame.append("path")
  .attr("d", `M${plot.left},${plot.bottom}V${plot.top}H${plot.right + 1}V${plot.bottom + 1}H${plot.left}`)
  .attr("stroke", "#333").attr("stroke-width", 1.8);
frame.append("path")
  .attr("d", `M${plot.left + 1},${plot.bottom - 1.5}H${plot.right - 1}V${plot.top + 1}`)
  .attr("stroke", "#f02000").attr("stroke-width", 2);

// axis titles
page.append("text").text("EmcEnergy/ge")
  .attr("transform", "translate(63,325) rotate(-90)")
  .attr("font-family", "Liberation Sans").attr("font-weight", "bold").attr("font-size", 31)
  .attr("textLength", 230).attr("lengthAdjust", "spacingAndGlyphs").attr("fill", "#111");
page.append("text").text("gotime")
  .attr("x", 1060).attr("y", 858)
  .attr("font-family", "Liberation Sans").attr("font-weight", "bold").attr("font-size", 32)
  .attr("textLength", 107).attr("lengthAdjust", "spacingAndGlyphs").attr("fill", "#111");

// exponent
page.append("text").text("×").attr("x", 1172).attr("y", 795)
  .attr("font-family", "Liberation Sans").attr("font-size", 34).attr("fill", "#333");
page.append("text").text("10").attr("x", 1194).attr("y", 793)
  .attr("font-family", "Liberation Sans").attr("font-weight", "bold").attr("font-size", 32).attr("fill", "#111");
page.append("text").text("-6").attr("x", 1229).attr("y", 776)
  .attr("font-family", "Liberation Sans").attr("font-weight", "bold").attr("font-size", 22).attr("fill", "#111");

// title box
page.append("rect").attr("x", 23).attr("y", 14).attr("width", 784).attr("height", 47).attr("fill", "#111");
page.append("rect").attr("x", 21).attr("y", 11.5).attr("width", 783).attr("height", 47.5)
  .attr("fill", "#f1f1f1").attr("stroke", "#333").attr("stroke-width", 1.4);
page.append("text").text("EmcEnergy/ge:gotime {gocause==603}")
  .attr("x", 55).attr("y", 44)
  .attr("font-family", "Liberation Sans").attr("font-weight", "bold").attr("font-size", 37)
  .attr("textLength", 730).attr("lengthAdjust", "spacingAndGlyphs").attr("fill", "#111");

// annotation boxes and arrows
function labelBox(bx, bw, label, tx, tw) {
  page.append("rect").attr("x", bx).attr("y", 362.5).attr("width", bw).attr("height", 109)
    .attr("fill", "none").attr("stroke", "#000").attr("stroke-width", 2);
  page.append("text").text(label).attr("x", tx).attr("y", 445)
    .attr("font-family", "Lato").attr("font-size", 72)
    .attr("textLength", tw).attr("lengthAdjust", "spacingAndGlyphs").attr("fill", "#000");
}
labelBox(423.5, 207, "barrel", 436, 180);
labelBox(694.5, 242, "endcap", 707, 217);

function arrow(x0, y0, x1, y1) {
  const a = Math.atan2(y1 - y0, x1 - x0);
  const back = 22, side = 12, notch = 14;
  const bx = x1 - back * Math.cos(a), by = y1 - back * Math.sin(a);
  const nx = x1 - notch * Math.cos(a), ny = y1 - notch * Math.sin(a);
  page.append("line").attr("x1", x0).attr("y1", y0).attr("x2", nx).attr("y2", ny)
    .attr("stroke", "#000").attr("stroke-width", 3.8);
  page.append("path")
    .attr("d", `M${x1},${y1}L${bx - side * Math.sin(a)},${by + side * Math.cos(a)}L${nx},${ny}L${bx + side * Math.sin(a)},${by - side * Math.cos(a)}Z`)
    .attr("fill", "#000");
}
arrow(518, 467, 808, 752);
arrow(815, 467, 986, 748);

// dark slide edges go on top
svg.append("rect").attr("x", 0).attr("y", 0).attr("width", 9).attr("height", height).attr("fill", "url(#strip)");
svg.append("rect").attr("x", 0).attr("y", 0).attr("width", width).attr("height", 7).attr("fill", "#04050e");
</script>
</body>
</html>
